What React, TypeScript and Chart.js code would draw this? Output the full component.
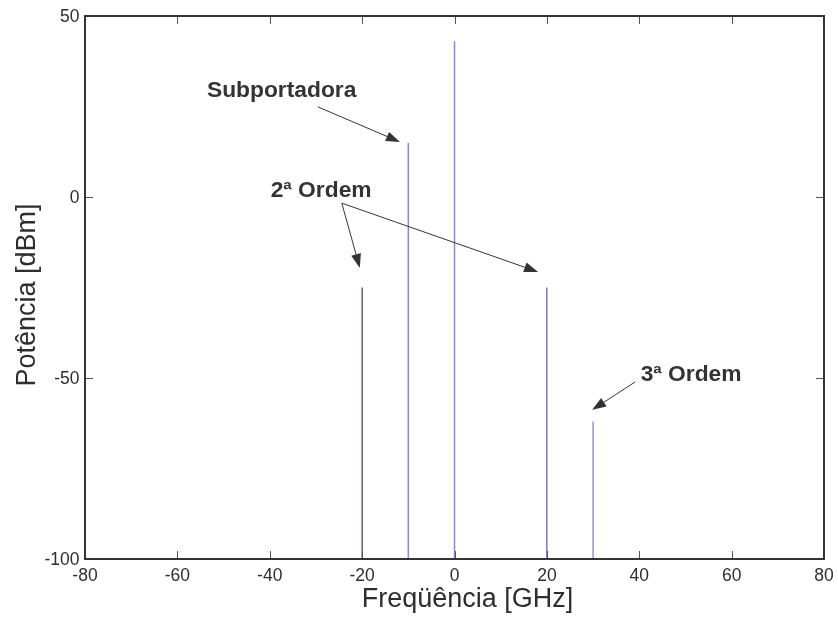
import React, { useEffect, useRef } from "react";
import { Chart, registerables } from "chart.js";

Chart.register(...registerables);

// ---- data ----
const frequencies = [-20, -10, 0, 20, 30]; // GHz
const powers = [-25, 15, 43, -25, -62]; // dBm
const lineColors = ["#14143a", "#8a8acc", "#8a8acc", "#34349c", "#5c5cc0"];
const lineWidths = [1, 1.5, 1.5, 1, 1];
const floorLevel = -100;

const xTicks = [-80, -60, -40, -20, 0, 20, 40, 60, 80];
const yTicks = [-100, -50, 0, 50];

const xTitle = "Freqüência [GHz]";
const yTitle = "Potência [dBm]";

// annotation labels (left edge / baseline, data coordinates)
const labelTexts = ["Subportadora", "2ª Ordem", "3ª Ordem"];
const labelX = [-53.6, -39.8, 40.3];
const labelY = [27.6, 0.1, -50.7];

// arrows: from (x,y) -> to (x,y) in data coordinates
const arrowFromX = [-29.6, -24.4, -24.4, 39.1];
const arrowFromY = [24.9, -1.7, -1.7, -51.1];
const arrowToX = [-11.8, -20.5, 18.1, 29.8];
const arrowToY = [15.2, -19.6, -20.7, -58.8];

const FONT = '"Liberation Sans", Arial, Helvetica, sans-serif';
const TEXT = "#2e2e2e";

const overlayPlugin = {
  id: "overlay",
  afterDatasetsDraw(chart: any) {
    const { ctx, chartArea: a, scales } = chart;
    const x = scales.x;
    const y = scales.y;
    ctx.save();
    const seg = (x1: number, y1: number, x2: number, y2: number) => {
      ctx.beginPath();
      ctx.moveTo(x1, y1);
      ctx.lineTo(x2, y2);
      ctx.stroke();
    };
    // inward ticks
    ctx.strokeStyle = "#555";
    ctx.lineWidth = 1;
    xTicks.forEach((v) => {
      const px = Math.round(x.getPixelForValue(v)) + 0.5;
      seg(px, a.bottom, px, a.bottom - 8);
      seg(px, a.top, px, a.top + 8);
    });
    yTicks.forEach((v) => {
      const py = Math.round(y.getPixelForValue(v)) + 0.5;
      seg(a.left, py, a.left + 8, py);
      seg(a.right, py, a.right - 8, py);
    });
    // frame
    ctx.strokeStyle = "#333";
    ctx.lineWidth = 2;
    ctx.strokeRect(a.left, a.top, a.right - a.left, a.bottom - a.top);

    // tick labels
    ctx.fillStyle = TEXT;
    ctx.font = `17.5px ${FONT}`;
    ctx.textBaseline = "alphabetic";
    ctx.textAlign = "center";
    xTicks.forEach((v) => {
      ctx.fillText(String(v), x.getPixelForValue(v), a.bottom + 22);
    });
    ctx.textAlign = "right";
    yTicks.forEach((v) => {
      ctx.fillText(String(v), a.left - 5.5, y.getPixelForValue(v) + 6.3);
    });

    // axis titles
    ctx.font = `27px ${FONT}`;
    ctx.textAlign = "center";
    ctx.fillText(xTitle, (a.left + a.right) / 2 + 13, a.bottom + 48);
    ctx.save();
    ctx.translate(a.left - 50, (a.top + a.bottom) / 2 + 7.5);
    ctx.rotate(-Math.PI / 2);
    ctx.textBaseline = "alphabetic";
    ctx.fillText(yTitle, 0, 0);
    ctx.restore();

    // annotation labels
    ctx.fillStyle = "#333";
    ctx.font = `bold 22.8px ${FONT}`;
    ctx.textAlign = "left";
    ctx.textBaseline = "alphabetic";
    labelTexts.forEach((t, i) => {
      ctx.fillText(t, x.getPixelForValue(labelX[i]), y.getPixelForValue(labelY[i]));
    });

    // arrows
    ctx.strokeStyle = "#333";
    ctx.fillStyle = "#333";
    ctx.lineWidth = 1;
    arrowFromX.forEach((_, i) => {
      const x1 = x.getPixelForValue(arrowFromX[i]);
      const y1 = y.getPixelForValue(arrowFromY[i]);
      const x2 = x.getPixelForValue(arrowToX[i]);
      const y2 = y.getPixelForValue(arrowToY[i]);
      const ang = Math.atan2(y2 - y1, x2 - x1);
      const hl = 14;
      const hw = 5;
      const bx = x2 - hl * Math.cos(ang);
      const by = y2 - hl * Math.sin(ang);
      seg(x1, y1, bx, by);
      ctx.beginPath();
      ctx.moveTo(x2, y2);
      ctx.lineTo(bx + hw * Math.sin(ang), by - hw * Math.cos(ang));
      ctx.lineTo(bx - hw * Math.sin(ang), by + hw * Math.cos(ang));
      ctx.closePath();
      ctx.fill();
    });
    ctx.restore();
  },
};

export default function App() {
  const ref = useRef<HTMLCanvasElement | null>(null);

  useEffect(() => {
    if (!ref.current) return;
    const datasets = frequencies.map((f, i) => ({
      data: [
        { x: f, y: floorLevel },
        { x: f, y: powers[i] },
      ],
      borderColor: lineColors[i],
      borderWidth: lineWidths[i],
      showLine: true,
      pointRadius: 0,
      fill: false,
    }));
    const chart = new Chart(ref.current, {
      type: "scatter",
      data: { datasets },
      options: {
        animation: false,
        responsive: false,
        layout: { padding: { top: 16, right: 14, left: 0, bottom: 0 } },
        plugins: { legend: { display: false }, tooltip: { enabled: false } },
        scales: {
          x: {
            type: "linear",
            min: -80,
            max: 80,
            afterBuildTicks: (s: any) => {
              s.ticks = xTicks.map((v) => ({ value: v }));
            },
            afterFit: (s: any) => {
              s.height = 58;
              s.paddingLeft = 0;
              s.paddingRight = 0;
            },
            grid: { display: false, drawTicks: false },
            border: { display: false },
            ticks: { display: false },
            title: { display: false },
          },
          y: {
            type: "linear",
            min: -100,
            max: 50,
            afterBuildTicks: (s: any) => {
              s.ticks = yTicks.map((v) => ({ value: v }));
            },
            afterFit: (s: any) => {
              s.width = 85;
              s.paddingTop = 0;
              s.paddingBottom = 0;
            },
            grid: { display: false, drawTicks: false },
            border: { display: false },
            ticks: { display: false },
            title: { display: false },
          },
        },
      },
      plugins: [overlayPlugin],
    } as any);
    return () => chart.destroy();
  }, []);

  return (
    <canvas
      ref={ref}
      width={838}
      height={617}
      style={{ display: "block", position: "absolute", left: 0, top: 0 }}
    />
  );
}
